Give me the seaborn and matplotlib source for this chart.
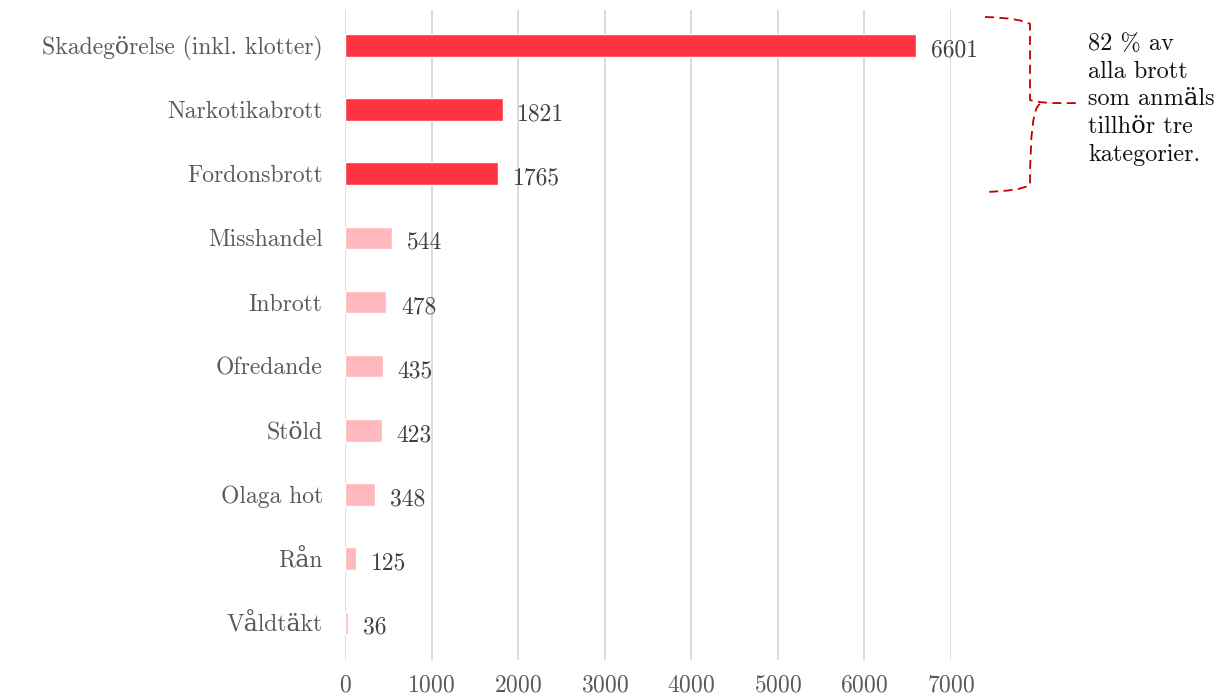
import matplotlib
matplotlib.use("Agg")
import matplotlib.pyplot as plt
import seaborn as sns
import pandas as pd
from matplotlib.path import Path
from matplotlib.patches import PathPatch

# Data
kategorier = ["Skadegörelse (inkl. klotter)", "Narkotikabrott", "Fordonsbrott",
              "Misshandel", "Inbrott", "Ofredande", "Stöld", "Olaga hot", "Rån", "Våldtäkt"]
antal = [6601, 1821, 1765, 544, 478, 435, 423, 348, 125, 36]
topp = [True, True, True, False, False, False, False, False, False, False]
notering = "82 % av\nalla brott\nsom anmäls\ntillhör tre\nkategorier."

sns.set_theme(style="whitegrid")
plt.rcParams["font.family"] = ["cmr10", "DejaVu Serif"]
plt.rcParams["axes.formatter.use_mathtext"] = True

df = pd.DataFrame({"kategori": kategorier, "antal": antal,
                   "grupp": ["topp" if t else "ovrig" for t in topp]})

fig = plt.figure(figsize=(12.29, 6.96), dpi=100)
ax = fig.add_axes([345 / 1229, 36 / 696, (951 - 345) / 1229, (686 - 36) / 696])

sns.barplot(data=df, x="antal", y="kategori", hue="grupp",
            palette={"topp": "#FF3341", "ovrig": "#FFB9BC"}, saturation=1,
            width=0.35, dodge=False, legend=False, ax=ax)

ax.set_xlim(0, 7000)
ax.set_ylim(9.58, -0.55)
ax.set_xticks(range(0, 8000, 1000))
ax.set_xlabel("")
ax.set_ylabel("")
ax.grid(axis="x", color="#D9D9D9", linewidth=1.3)
ax.grid(axis="y", visible=False)
for s in ax.spines.values():
    s.set_visible(False)
ax.tick_params(axis="both", length=0, labelsize=17, colors="#595959")
ax.tick_params(axis="x", pad=10)
ax.tick_params(axis="y", pad=16)

for i, v in enumerate(antal):
    ax.text(v + 170, i + 0.08, str(v), va="center", ha="left",
            fontsize=17, color="#404040")

# Bracket around the three largest categories (figure pixel coords)
W, H = 1229, 696
pts = [(985, 17), (1020, 18), (1030, 24), (1030, 100), (1040, 104), (1077, 103),
       (1040, 104), (1030, 108), (1030, 185), (1020, 191), (985, 192)]
codes = [Path.MOVETO, Path.CURVE3, Path.CURVE3, Path.LINETO, Path.CURVE3, Path.CURVE3,
         Path.MOVETO, Path.CURVE3, Path.LINETO, Path.CURVE3, Path.CURVE3]
verts = [(x / W, 1 - y / H) for x, y in pts]
fig.add_artist(PathPatch(Path(verts, codes), transform=fig.transFigure,
                         fill=False, edgecolor="#C00000", linewidth=1.3,
                         linestyle=(0, (5, 3))))

fig.text(1088 / W, 1 - 33 / H, notering, ha="left", va="top",
         fontsize=17.5, color="#111111", linespacing=1.32)

fig.savefig("out.png", dpi=100, facecolor="white")
